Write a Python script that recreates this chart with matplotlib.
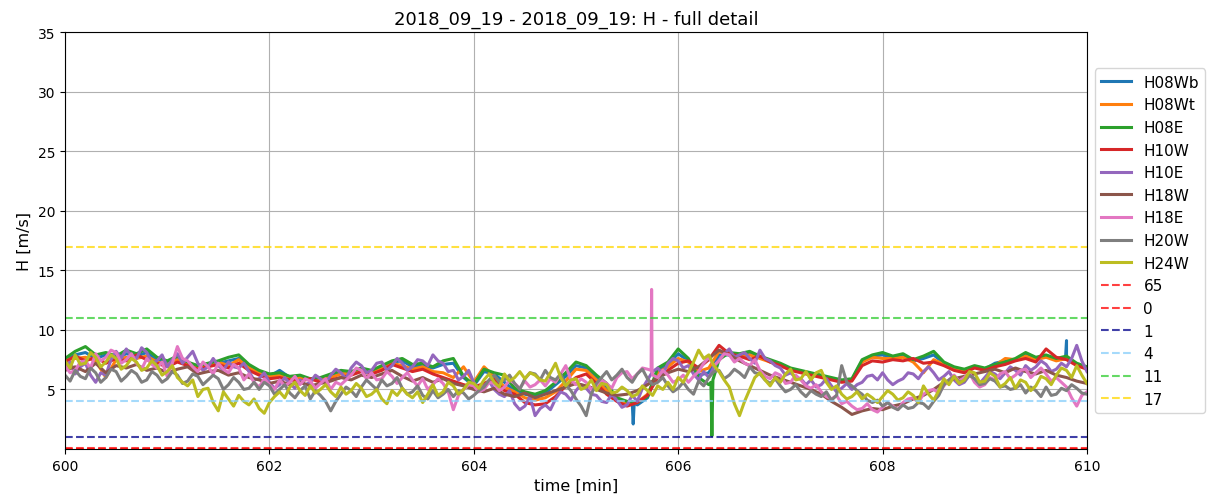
import numpy as np
import matplotlib
matplotlib.use("Agg")
import matplotlib.pyplot as plt

# sample times [min], every 0.1 min
t = np.round(np.arange(600.0, 610.01, 0.1), 1)

names = ["H08Wb", "H08Wt", "H08E", "H10W", "H10E", "H18W", "H18E", "H20W", "H24W"]

H08Wb = [7.4, 7.9, 8.1, 7.6, 7.9, 7.6, 8.0, 7.8, 8.1, 7.5,
         7.2, 7.6, 7.1, 6.9, 7.1, 7.2, 7.4, 7.6, 6.9, 6.4,
         6.1, 6.6, 6.0, 6.1, 5.8, 5.9, 6.2, 6.4, 6.4, 6.7,
         6.5, 6.9, 7.3, 7.4, 6.9, 7.0, 6.8, 7.1, 7.2, 6.0,
         5.3, 6.5, 6.3, 5.6, 4.9, 4.6, 4.4, 4.7, 5.4, 6.1,
         7.0, 6.8, 6.0, 5.2, 4.2, 3.8, 3.7, 4.3, 6.6, 7.1,
         8.0, 7.4, 6.2, 6.4, 7.9, 7.9, 7.8, 8.0, 7.7, 7.4,
         7.1, 6.7, 6.5, 6.3, 6.1, 5.9, 5.7, 5.8, 7.4, 7.8,
         7.9, 7.7, 7.8, 7.4, 7.6, 7.9, 7.2, 6.8, 6.6, 6.9,
         6.7, 7.2, 7.4, 7.5, 8.0, 7.6, 7.8, 7.5, 7.7, 7.1,
         6.8]
H08Wt = [7.5, 7.6, 7.7, 7.4, 6.0, 7.5, 7.7, 7.6, 7.8, 7.3,
         7.1, 7.5, 7.1, 6.9, 7.0, 7.3, 7.0, 7.5, 6.8, 6.4,
         6.1, 6.2, 5.9, 6.0, 5.8, 5.9, 6.0, 6.3, 6.4, 6.6,
         6.5, 6.8, 7.2, 7.0, 6.7, 6.9, 6.5, 6.4, 6.0, 6.9,
         5.6, 6.9, 6.1, 5.2, 4.8, 4.3, 4.1, 4.3, 4.8, 5.7,
         6.7, 6.6, 5.8, 4.9, 4.2, 3.8, 3.9, 4.6, 6.4, 6.9,
         7.6, 7.3, 6.5, 6.8, 8.2, 7.9, 7.7, 7.9, 7.6, 7.3,
         7.0, 6.7, 6.5, 6.3, 6.1, 5.9, 5.7, 5.8, 7.3, 7.7,
         7.6, 7.6, 7.7, 7.3, 6.4, 7.5, 7.1, 6.8, 6.6, 6.9,
         6.7, 7.0, 7.6, 7.5, 7.8, 7.5, 7.7, 7.4, 7.6, 7.1,
         6.8]
H08E = [7.6, 8.2, 8.6, 7.9, 8.1, 7.8, 8.3, 8.0, 8.4, 7.7,
        7.4, 7.8, 7.3, 7.0, 7.2, 7.4, 7.7, 7.9, 7.1, 6.6,
        6.3, 6.4, 6.1, 6.2, 5.9, 6.0, 6.3, 6.6, 6.5, 6.8,
        6.6, 7.0, 7.4, 7.6, 7.1, 7.2, 6.9, 7.4, 7.6, 6.1,
        5.4, 6.7, 6.4, 6.2, 5.1, 4.8, 4.6, 4.9, 5.6, 6.4,
        7.3, 7.0, 6.2, 5.5, 4.3, 4.0, 3.9, 4.4, 6.8, 7.3,
        8.4, 7.6, 6.0, 5.4, 7.5, 8.1, 8.0, 8.2, 7.8, 7.5,
        7.2, 6.8, 6.6, 6.4, 6.2, 6.0, 5.8, 5.9, 7.5, 7.9,
        8.1, 7.8, 8.0, 7.5, 7.8, 8.2, 7.3, 6.9, 6.7, 7.0,
        6.8, 7.1, 7.3, 7.6, 8.1, 7.7, 7.9, 7.6, 7.8, 7.2,
        6.9]
H10W = [7.3, 7.8, 7.4, 7.7, 7.2, 7.6, 7.4, 7.9, 7.5, 7.2,
        6.9, 7.3, 7.0, 6.7, 6.9, 7.1, 6.8, 7.2, 6.6, 6.2,
        5.9, 6.0, 5.8, 5.7, 5.9, 5.6, 5.8, 6.0, 6.2, 6.5,
        6.3, 6.6, 7.1, 6.8, 6.5, 6.7, 6.3, 6.0, 5.7, 5.4,
        5.2, 5.5, 5.9, 4.9, 4.6, 3.9, 3.7, 3.8, 4.4, 5.3,
        6.0, 6.3, 5.5, 4.6, 4.0, 3.6, 3.9, 4.5, 6.0, 6.6,
        7.2, 7.4, 6.8, 7.5, 8.7, 8.0, 7.8, 7.5, 7.8, 7.3,
        7.0, 6.6, 6.4, 6.2, 6.0, 5.8, 5.6, 5.7, 7.0, 7.4,
        7.3, 7.5, 7.4, 7.6, 7.2, 7.3, 7.0, 6.6, 6.4, 6.8,
        6.6, 6.9, 7.1, 7.4, 7.6, 7.3, 8.4, 7.7, 7.5, 7.0,
        6.7]
H10E = [6.8, 6.3, 7.2, 5.6, 6.2, 8.2, 8.4, 7.6, 8.1, 7.4,
        6.9, 8.0, 7.7, 7.2, 6.9, 7.0, 7.3, 6.8, 6.5, 5.9,
        5.6, 5.4, 5.5, 5.8, 5.6, 5.9, 6.2, 6.4, 6.8, 7.0,
        6.6, 7.3, 7.0, 7.2, 6.9, 7.4, 7.9, 7.2, 6.6, 6.1,
        5.6, 5.3, 5.0, 4.4, 3.8, 3.6, 2.8, 3.7, 4.2, 4.6,
        4.9, 5.1, 4.5, 3.9, 4.1, 3.7, 4.0, 5.8, 6.8, 7.2,
        7.4, 7.0, 5.8, 6.0, 7.5, 8.4, 7.9, 7.6, 8.3, 7.4,
        6.8, 6.4, 5.9, 5.8, 5.4, 5.3, 5.1, 5.0, 5.6, 6.2,
        6.4, 5.4, 5.9, 6.3, 6.5, 6.4, 6.1, 5.8, 5.6, 5.9,
        6.0, 6.3, 6.4, 6.6, 7.0, 6.9, 7.1, 6.7, 6.9, 8.7,
        6.5]
H18W = [6.6, 6.9, 6.5, 7.2, 6.4, 7.0, 6.8, 7.1, 6.6, 6.8,
        6.4, 6.7, 6.9, 6.3, 6.5, 6.6, 6.2, 6.4, 6.0, 5.8,
        5.5, 5.7, 5.4, 5.6, 5.3, 5.5, 5.7, 6.0, 5.8, 6.2,
        6.0, 6.3, 6.6, 6.1, 5.7, 6.0, 5.6, 5.9, 5.5, 5.3,
        5.0, 4.8, 5.1, 4.6, 4.4, 4.7, 4.3, 4.6, 4.9, 5.2,
        5.5, 5.3, 5.0, 4.7, 4.5, 4.6, 4.9, 5.4, 6.0, 6.4,
        6.7, 6.5, 6.9, 7.6, 8.3, 7.9, 7.4, 7.0, 6.6, 6.2,
        5.9, 5.6, 5.3, 5.0, 4.6, 4.0, 3.5, 2.9, 3.2, 3.4,
        3.3, 3.6, 3.8, 4.2, 4.5, 5.0, 5.6, 5.9, 6.1, 6.3,
        6.5, 6.7, 6.4, 6.8, 6.5, 6.3, 6.6, 6.2, 6.0, 5.7,
        5.5]
H18E = [7.0, 6.6, 7.4, 8.0, 7.7, 8.1, 7.5, 7.2, 7.6, 6.8,
        6.1, 8.6, 7.4, 6.5, 6.9, 7.2, 6.4, 6.8, 6.3, 5.2,
        5.4, 5.8, 5.6, 5.4, 5.7, 5.5, 5.0, 5.4, 6.2, 6.6,
        6.4, 5.9, 6.1, 6.0, 5.8, 5.9, 5.4, 5.5, 3.3, 5.0,
        5.3, 5.0, 5.5, 5.2, 5.5, 5.7, 5.4, 5.3, 5.6, 7.0,
        5.4, 5.6, 5.3, 5.5, 6.0, 6.5, 6.3, 6.7, 6.0, 6.2,
        5.8, 5.6, 6.5, 7.7, 7.4, 7.9, 7.6, 7.0, 6.6, 5.9,
        6.2, 5.6, 5.8, 5.1, 4.8, 4.2, 3.8, 3.6, 3.4, 3.3,
        3.5, 3.6, 3.9, 4.3, 4.6, 5.0, 5.3, 6.2, 6.0, 5.6,
        5.4, 5.8, 6.5, 6.2, 6.7, 6.4, 6.3, 6.0, 5.2, 3.6,
        4.8]
H20W = [6.2, 6.6, 5.9, 6.4, 6.0, 6.5, 6.1, 6.3, 5.8, 6.2,
        5.9, 6.2, 5.7, 6.1, 5.8, 5.9, 5.4, 5.6, 5.1, 5.0,
        5.3, 5.0, 4.7, 4.9, 4.2, 4.5, 3.2, 4.6, 4.9, 5.2,
        5.4, 5.8, 5.5, 5.1, 4.8, 4.5, 4.9, 4.6, 4.4, 4.7,
        4.5, 5.2, 6.2, 5.8, 5.5, 5.9, 6.3, 6.6, 5.8, 5.4,
        4.2, 2.8, 5.5, 6.5, 6.2, 6.0, 6.3, 5.9, 5.6, 5.3,
        5.1, 5.0, 5.7, 6.0, 6.6, 6.2, 6.4, 6.9, 6.3, 5.5,
        5.3, 5.0, 4.8, 4.9, 4.4, 4.1, 7.0, 5.3, 4.6, 3.9,
        3.6, 3.5, 3.7, 3.5, 3.8, 4.0, 5.4, 6.1, 5.7, 5.9,
        5.5, 5.7, 5.3, 5.1, 4.7, 4.9, 5.2, 4.6, 4.9, 5.1,
        4.6]
H24W = [7.4, 7.9, 7.2, 7.7, 7.3, 7.6, 7.0, 7.3, 6.8, 7.0,
        6.5, 6.0, 5.3, 4.4, 5.1, 3.2, 4.2, 4.5, 3.7, 3.4,
        3.9, 4.8, 5.2, 4.9, 5.3, 5.0, 4.8, 5.2, 4.9, 5.1,
        4.6, 4.2, 4.9, 5.1, 4.3, 3.9, 5.4, 4.8, 5.3, 5.0,
        5.5, 5.8, 5.6, 6.3, 6.0, 5.9, 6.2, 5.7, 7.2, 5.3,
        5.9, 5.2, 4.9, 5.4, 4.8, 4.9, 4.6, 4.9, 5.3, 5.6,
        6.0, 6.4, 8.3, 7.9, 6.5, 5.2, 2.8, 5.0, 6.4, 5.3,
        5.6, 6.7, 5.9, 5.8, 6.6, 5.0, 4.6, 4.4, 4.2, 4.3,
        4.4, 4.6, 4.3, 4.5, 5.3, 4.1, 5.9, 6.1, 5.8, 6.4,
        5.7, 6.1, 5.5, 5.1, 5.6, 5.3, 5.9, 6.2, 6.6, 7.0,
        5.5]

# extra readings halfway between samples (600.05, 600.15, ...) for the
# series that lie on top and show their jitter
mids = {
    "H10E": [7.3, 6.9, 6.2, 6.4, 7.5, 7.6, 7.8, 8.5, 7.2, 7.9,
             7.5, 7.2, 8.2, 6.6, 7.6, 6.6, 6.9, 7.2, 5.8, 6.4,
             5.1, 6.0, 5.1, 5.4, 6.2, 5.5, 6.7, 5.9, 7.3, 6.4,
             7.2, 6.6, 7.6, 6.6, 7.5, 7.0, 7.4, 6.5, 5.8, 6.6,
             5.0, 5.7, 4.6, 4.9, 3.3, 4.4, 3.4, 3.3, 4.8, 4.1,
             5.4, 4.6, 4.0, 4.6, 3.5, 4.5, 5.1, 6.5, 6.3, 7.6,
             6.8, 6.3, 6.5, 6.9, 8.0, 7.7, 8.1, 7.2, 7.6, 7.0,
             6.2, 6.0, 5.4, 5.2, 5.9, 4.8, 5.5, 5.4, 6.1, 5.8,
             5.8, 5.7, 6.4, 5.9, 6.9, 5.8, 6.5, 5.4, 6.2, 5.5,
             6.5, 5.9, 6.9, 6.2, 6.6, 7.4, 6.5, 7.2, 7.6, 7.4],
    "H18E": [6.4, 7.3, 6.8, 7.4, 8.3, 7.2, 8.0, 6.7, 7.1, 7.3,
             7.2, 7.6, 6.9, 7.3, 6.3, 6.7, 7.1, 5.8, 5.6, 5.9,
             5.0, 5.3, 6.1, 5.9, 5.1, 5.9, 5.6, 5.8, 6.8, 5.9,
             5.8, 6.5, 5.5, 6.4, 5.3, 5.0, 5.9, 4.8, 4.5, 5.4,
             4.8, 5.6, 4.9, 5.8, 5.1, 5.2, 5.8, 5.9, 6.3, 5.8,
             5.9, 5.0, 5.8, 5.1, 6.4, 5.9, 6.8, 6.2, 6.6, 5.6,
             6.2, 6.1, 7.2, 7.0, 8.0, 7.3, 7.2, 7.5, 6.1, 6.4,
             5.5, 6.2, 5.3, 5.4, 4.4, 4.5, 4.0, 3.3, 3.8, 3.1,
             3.9, 3.3, 4.2, 3.9, 4.9, 4.7, 5.8, 5.7, 6.4, 5.2,
             6.0, 6.3, 5.9, 6.6, 6.0, 6.8, 5.7, 5.6, 4.3, 4.5],
    "H20W": [5.7, 6.1, 6.8, 5.6, 6.7, 5.7, 6.6, 5.6, 6.5, 5.6,
             6.5, 5.5, 6.3, 5.4, 6.2, 5.0, 6.0, 5.0, 5.6, 5.6,
             4.6, 5.4, 4.3, 5.3, 4.9, 4.0, 4.0, 5.2, 4.4, 5.8,
             5.0, 5.3, 6.0, 4.6, 5.3, 4.2, 4.3, 5.0, 4.9, 4.2,
             4.9, 5.8, 5.6, 6.2, 5.0, 6.4, 5.8, 6.0, 6.3, 4.9,
             3.6, 4.6, 6.0, 5.8, 6.7, 5.6, 6.7, 5.4, 6.0, 4.8,
             5.6, 4.6, 5.3, 6.5, 5.9, 6.7, 6.0, 6.4, 5.8, 5.9,
             4.8, 5.4, 4.4, 4.6, 4.8, 4.5, 5.6, 4.9, 4.1, 4.1,
             3.9, 3.3, 3.4, 3.9, 3.4, 4.5, 5.8, 5.6, 6.2, 5.4,
             5.9, 5.2, 5.0, 5.4, 5.2, 4.4, 4.5, 5.1, 5.4, 4.7],
    "H24W": [6.8, 7.1, 8.1, 6.9, 7.9, 6.7, 7.6, 6.6, 7.4, 6.2,
             7.0, 5.6, 5.8, 5.0, 3.9, 4.8, 3.6, 4.0, 4.2, 3.0,
             4.4, 4.3, 5.6, 4.5, 4.7, 5.4, 4.4, 4.6, 5.5, 4.4,
             5.0, 3.8, 4.5, 4.6, 4.8, 4.6, 4.5, 5.6, 4.6, 5.6,
             5.1, 6.3, 5.2, 5.7, 6.5, 6.4, 5.8, 6.4, 6.0, 5.8,
             5.0, 5.8, 5.5, 4.7, 5.2, 4.4, 5.3, 4.5, 5.0, 5.0,
             5.6, 7.3, 7.6, 7.0, 5.8, 3.8, 4.0, 6.0, 5.8, 6.0,
             6.3, 5.8, 6.5, 6.4, 5.6, 5.3, 4.2, 4.8, 4.6, 3.9,
             4.9, 4.1, 4.8, 3.9, 4.6, 4.9, 5.4, 5.5, 6.5, 5.6,
             6.4, 5.2, 6.0, 5.8, 4.9, 6.1, 5.4, 6.8, 6.0, 6.2],
}

# short spikes / dips between the regular samples (time, value)
events = {
    "H08Wb": [(605.55, 4.0), (605.56, 2.1), (605.57, 3.9),
              (609.79, 7.6), (609.80, 9.1), (609.81, 7.6)],
    "H08E": [(606.32, 5.6), (606.33, 1.1), (606.34, 5.8)],
    "H18E": [(605.735, 6.6), (605.74, 13.4), (605.745, 6.5)],
}

series = [H08Wb, H08Wt, H08E, H10W, H10E, H18W, H18E, H20W, H24W]

# threshold lines
thr_labels = ["65", "0", "1", "4", "11", "17"]
thr_values = [0.1, 0.0, 1.0, 4.0, 11.0, 17.0]
thr_colors = ["red", "red", "darkblue", "lightskyblue", "limegreen", "gold"]

fig = plt.figure(figsize=(12.08, 5.02), dpi=100)
ax = fig.add_axes([0.0538, 0.1036, 0.846, 0.8304])

t_mid = np.round(t[:-1] + 0.05, 2)
for name, vals in zip(names, series):
    tt = list(t)
    vv = list(vals)
    if name in mids:
        tt += list(t_mid)
        vv += mids[name]
    for et, ev in events.get(name, []):
        tt.append(et)
        vv.append(ev)
    order = np.argsort(tt)
    ax.plot(np.array(tt)[order], np.array(vv)[order], lw=2.2, label=name)

for lab, val, col in zip(thr_labels, thr_values, thr_colors):
    ax.axhline(val, ls="--", color=col, alpha=0.75, lw=1.5, label=lab)

ax.set_xlim(600, 610)
ax.set_ylim(0, 35)
ax.set_yticks([5, 10, 15, 20, 25, 30, 35])
ax.grid(True)
ax.set_xlabel("time [min]", fontsize=11.5)
ax.set_ylabel("H [m/s]", fontsize=11.5)
ax.set_title("2018_09_19 - 2018_09_19: H - full detail", fontsize=13)
ax.legend(loc="center left", bbox_to_anchor=(1.0, 0.5), fontsize=11)

plt.savefig("out.png", dpi=100)
